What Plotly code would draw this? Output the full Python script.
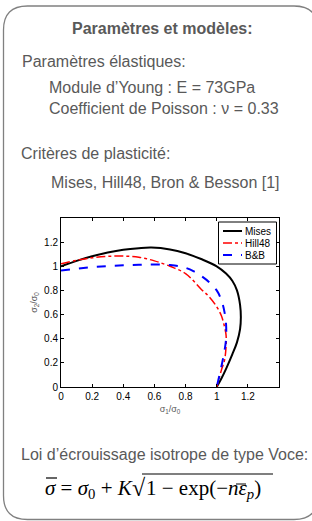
import plotly.graph_objects as go

# ---- data ----
mises_x = [0, 0.1, 0.2, 0.3, 0.4, 0.5, 0.58, 0.7, 0.8, 0.9, 1.0, 1.06, 1.1, 1.13, 1.15, 1.155, 1.15, 1.13, 1.1, 1.06, 1.03, 1.0]
mises_y = [1.0, 1.045, 1.083, 1.114, 1.137, 1.15, 1.155, 1.14, 1.108, 1.06, 1.0, 0.94, 0.88, 0.8, 0.68, 0.577, 0.48, 0.37, 0.27, 0.15, 0.07, 0.0]

hill_x = [0, 0.1, 0.2, 0.3, 0.4, 0.5, 0.6, 0.7, 0.8, 0.9, 0.95, 1.0, 1.03, 1.05, 1.06, 1.06, 1.05, 1.03, 1.0]
hill_y = [1.02, 1.05, 1.07, 1.082, 1.085, 1.075, 1.045, 1.0, 0.94, 0.81, 0.75, 0.665, 0.59, 0.5, 0.43, 0.335, 0.22, 0.14, 0.0]

bb_x = [0, 0.1, 0.2, 0.3, 0.4, 0.5, 0.6, 0.7, 0.78, 0.85, 0.9, 0.95, 1.0, 1.03, 1.05, 1.06, 1.06, 1.05, 1.03, 1.0]
bb_y = [0.965, 0.98, 0.993, 1.002, 1.008, 1.013, 1.015, 1.01, 0.995, 0.96, 0.92, 0.87, 0.80, 0.72, 0.62, 0.52, 0.40, 0.30, 0.17, 0.0]

series_names = ["Mises", "Hill48", "B&amp;B"]
series_colors = ["black", "red", "blue"]
series_dash = ["solid", "dashdot", "dash"]
series_width = [2, 1.5, 2]

tick_vals = [0, 0.2, 0.4, 0.6, 0.8, 1, 1.2]
tick_text = ["0", "0.2", "0.4", "0.6", "0.8", "1", "1.2"]

W, H = 312, 521
ML, MR, MT, MB = 61, 33, 218, 134
PW, PH = W - ML - MR, H - MT - MB


def px(x):
    return (x - ML) / PW


def py(y):
    return (H - MB - y) / PH


GRAY = "#595959"
SANS = "Liberation Sans"
SERIF = "Liberation Serif"

fig = go.Figure()
for xs, ys, nm, c, d, w in zip([mises_x, hill_x, bb_x], [mises_y, hill_y, bb_y],
                               series_names, series_colors, series_dash, series_width):
    fig.add_trace(go.Scatter(x=xs, y=ys, mode="lines", name=nm, showlegend=False,
                             line=dict(color=c, width=w, dash=d, shape="spline")))

axis_common = dict(
    tickvals=tick_vals, ticktext=tick_text, ticks="inside", ticklen=3,
    tickcolor="black", showline=True, linecolor="black", linewidth=1,
    mirror="allticks", showgrid=False, zeroline=False,
    tickfont=dict(family=SANS, size=10, color="black"),
)
fig.update_xaxes(range=[0, 1.4], title=dict(text="σ<sub>1</sub>/σ<sub>0</sub>",
                 font=dict(family=SANS, size=9, color=GRAY), standoff=4),
                 **axis_common)
fig.update_yaxes(range=[0, 1.4], title=dict(text="σ<sub>2</sub>/σ<sub>0</sub>",
                 font=dict(family=SANS, size=9, color=GRAY), standoff=4),
                 **axis_common)

# rounded frame
x0, y0, x1, y1, r = 3.5, 6, 318, 519.5, 24
path = (f"M {px(x0)},{py(y0 + r)} Q {px(x0)},{py(y0)} {px(x0 + r)},{py(y0)} "
        f"L {px(x1 - r)},{py(y0)} Q {px(x1)},{py(y0)} {px(x1)},{py(y0 + r)} "
        f"L {px(x1)},{py(y1 - r)} Q {px(x1)},{py(y1)} {px(x1 - r)},{py(y1)} "
        f"L {px(x0 + r)},{py(y1)} Q {px(x0)},{py(y1)} {px(x0)},{py(y1 - r)} Z")
shapes = [dict(type="path", xref="paper", yref="paper", path=path,
               line=dict(color="#808080", width=1.3), layer="below")]


def hline(xa, xb, y, color="black", width=1.2, dash="solid"):
    shapes.append(dict(type="line", xref="paper", yref="paper",
                       x0=px(xa), x1=px(xb), y0=py(y), y1=py(y),
                       line=dict(color=color, width=width, dash=dash)))


# radical vinculum and overbars
hline(142, 273, 474)
hline(46, 57, 478)
hline(236, 246, 484, width=1)

annotations = []


def add_text(text, x, y, size=16, anchor="left", bold=False, family=SANS, color=GRAY):
    if bold:
        text = f"<b>{text}</b>"
    annotations.append(dict(text=text, x=px(x), y=py(y), xref="paper", yref="paper",
                            xanchor=anchor, yanchor="middle", showarrow=False,
                            font=dict(family=family, size=size, color=color)))


# compact legend, drawn like the reference
shapes.append(dict(type="rect", xref="paper", yref="paper",
                   x0=px(218.5), x1=px(276.5), y0=py(222), y1=py(264),
                   line=dict(color="black", width=1), fillcolor="white"))
for i, (nm, c, d, w) in enumerate(zip(series_names, series_colors, series_dash, series_width)):
    yy = 231 + 12 * i
    hline(223, 242, yy, color=c, width=w, dash=d)
    add_text(nm, 243, yy, size=10, color="black")

add_text("Paramètres et modèles:", 162.5, 28, size=16, anchor="center", bold=True)
add_text("Paramètres élastiques:", 20, 61)
add_text("Module d’Young : E = 73GPa", 47, 87)
add_text("Coefficient de Poisson : ν = 0.33", 47, 108)
add_text("Critères de plasticité:", 19, 153)
add_text("Mises, Hill48, Bron &amp; Besson [1]", 49, 182)
add_text("Loi d’écrouissage isotrope de type Voce:", 164, 454, anchor="center")
# formula  σ̄ = σ0 + K √(1 − exp(−n ε̄p))
add_text("<i>σ</i> = <i>σ</i><sub>0</sub> + <i>K</i>", 43, 489, size=21, family=SERIF, color="black")
add_text("√", 130, 488, size=24, family=SERIF, color="black")
add_text("1 − exp(−<i>nε</i><sub><i>p</i></sub>)", 144, 489, size=21, family=SERIF, color="black")

fig.update_layout(
    width=W, height=H, margin=dict(l=ML, r=MR, t=MT, b=MB),
    paper_bgcolor="white", plot_bgcolor="white",
    showlegend=False,
    shapes=shapes, annotations=annotations,
)

fig.write_html("out.html", config={"displayModeBar": False},
               post_script="document.body.style.margin='0px';")
